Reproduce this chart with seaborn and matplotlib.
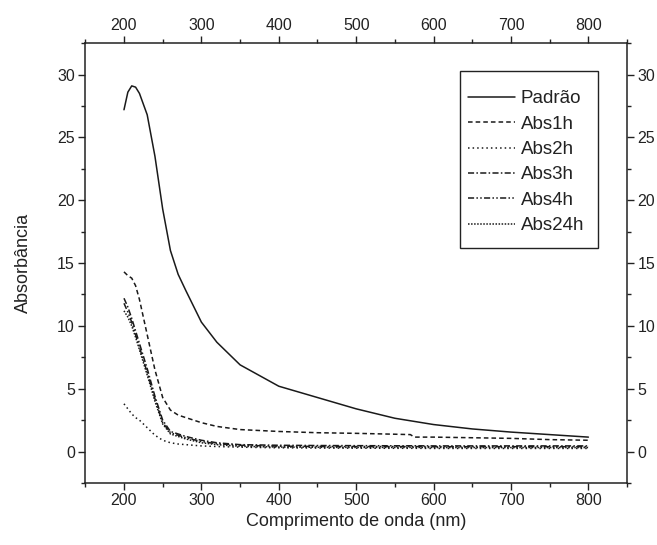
import matplotlib
matplotlib.use("Agg")
import matplotlib.pyplot as plt
import seaborn as sns
import numpy as np
import pandas as pd
from matplotlib.ticker import MultipleLocator
from matplotlib.patches import Rectangle

wavelength = [200, 205, 210, 215, 220, 230, 240, 250, 260, 270, 280, 300, 320, 350,
              400, 450, 500, 550, 570, 575, 600, 650, 700, 750, 800]

padrao = [27.2, 28.6, 29.1, 29.0, 28.5, 26.8, 23.5, 19.3, 16.0, 14.1, 12.8, 10.3, 8.7, 6.9,
          5.2, 4.3, 3.4, 2.65, 2.45, 2.4, 2.15, 1.8, 1.55, 1.35, 1.15]
abs1h = [14.3, 14.0, 13.8, 13.2, 12.1, 9.3, 6.5, 4.3, 3.3, 2.9, 2.7, 2.3, 2.0, 1.75,
         1.6, 1.5, 1.45, 1.38, 1.35, 1.15, 1.15, 1.1, 1.05, 0.95, 0.9]
abs2h = [3.8, 3.4, 3.0, 2.7, 2.5, 1.9, 1.3, 0.9, 0.7, 0.6, 0.55, 0.45, 0.4, 0.35,
         0.3, 0.28, 0.27, 0.26, 0.26, 0.26, 0.25, 0.25, 0.25, 0.25, 0.25]
abs3h = [12.2, 11.5, 10.6, 9.6, 8.6, 6.6, 4.4, 2.5, 1.6, 1.4, 1.2, 0.9, 0.7, 0.55,
         0.5, 0.48, 0.47, 0.46, 0.46, 0.46, 0.45, 0.45, 0.45, 0.45, 0.45]
abs4h = [11.8, 11.1, 10.3, 9.3, 8.3, 6.3, 4.2, 2.3, 1.5, 1.3, 1.1, 0.8, 0.62, 0.5,
         0.43, 0.41, 0.4, 0.4, 0.4, 0.4, 0.39, 0.39, 0.39, 0.39, 0.39]
abs24h = [11.2, 10.7, 10.0, 9.1, 8.1, 6.1, 4.0, 2.2, 1.4, 1.2, 1.0, 0.7, 0.55, 0.42,
          0.36, 0.34, 0.33, 0.33, 0.33, 0.33, 0.32, 0.32, 0.32, 0.32, 0.32]

labels = ["Padrão", "Abs1h", "Abs2h", "Abs3h", "Abs4h", "Abs24h"]
series = [padrao, abs1h, abs2h, abs3h, abs4h, abs24h]

sns.set_theme(style="ticks")
plt.rcParams['font.family'] = ['Liberation Sans', 'DejaVu Sans']

fig = plt.figure(figsize=(6.57, 5.45), dpi=100)
ax = fig.add_axes([0.1298, 0.1138, 0.8247, 0.807])

styles = ["-", (0, (3, 2)), (0, (1, 2)), (0, (4, 1.5, 1, 1.5)), (0, (4, 1.5, 1, 1.5, 1, 1.5)), (0, (1, 1))]
for lab, vals, ls in zip(labels, series, styles):
    sns.lineplot(x=wavelength, y=vals, ax=ax, color="#1a1a1a", linewidth=1.1,
                 linestyle=ls, label=lab)

ax.set_xlim(150, 850)
ax.set_ylim(-2.5, 32.5)
ax.xaxis.set_major_locator(MultipleLocator(100))
ax.xaxis.set_minor_locator(MultipleLocator(50))
ax.yaxis.set_major_locator(MultipleLocator(5))
ax.yaxis.set_minor_locator(MultipleLocator(2.5))
ax.set_xticks(range(200, 801, 100))
ax.tick_params(axis="both", which="both", direction="out", top=True, right=True,
               labeltop=True, labelright=True, labelsize=11.5, color="#222222",
               labelcolor="#222222", pad=2.5)
ax.tick_params(which="major", length=5, width=1)
ax.tick_params(which="minor", length=3, width=1)
for s in ax.spines.values():
    s.set_visible(True)
    s.set_linewidth(1.1)
    s.set_color("#222222")

ax.set_xlabel("Comprimento de onda (nm)", fontsize=13, color="#222222", labelpad=3)
ax.set_ylabel("Absorbância", fontsize=13, color="#222222", labelpad=18)

ax.add_patch(Rectangle((0.692, 0.534), 0.9465 - 0.692, 0.936 - 0.534,
                       transform=ax.transAxes, fill=True, facecolor="white",
                       edgecolor="#222222", linewidth=1.0, zorder=4))
leg = ax.legend(loc="upper left", bbox_to_anchor=(0.7065, 0.893), fontsize=13.5,
                frameon=False, handlelength=2.5, handletextpad=0.3,
                labelspacing=0.44, borderpad=0, borderaxespad=0)
leg.set_zorder(5)
for t in leg.get_texts():
    t.set_color("#222222")

fig.savefig("out.png", dpi=100)
